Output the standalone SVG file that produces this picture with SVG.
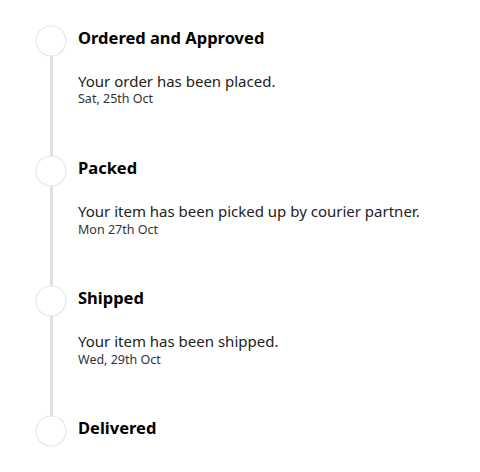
<svg xmlns="http://www.w3.org/2000/svg" width="480" height="472" viewBox="0 0 480 472">
<style>
.dot{fill:#fff;stroke:#e6e6e6;stroke-width:1.2}
.title{font-family:"Noto Sans","Open Sans",sans-serif;font-weight:bold;font-size:16.5px;fill:#000}
.body{font-family:"Noto Sans","Open Sans",sans-serif;font-size:15px;fill:#222}
.date{font-family:"Noto Sans","Open Sans",sans-serif;font-size:12.5px;fill:#333}
.line{stroke:#e0e0e0;stroke-width:3;fill:none}
</style>
<rect width="480" height="472" fill="#fff"/>
<g id="connectors">
<line class="line" x1="51.5" y1="56" x2="51.5" y2="416"/>
</g>
<g id="step-ordered">
<circle class="dot" cx="51" cy="41" r="15"/>
<text class="title" x="78" y="44">Ordered and Approved</text>
<text class="body" x="78" y="87">Your order has been placed.</text>
<text class="date" x="78" y="103">Sat, 25th Oct</text>
</g>
<g id="step-packed">
<circle class="dot" cx="51" cy="171" r="15"/>
<text class="title" x="78" y="174">Packed</text>
<text class="body" x="78" y="217">Your item has been picked up by courier partner.</text>
<text class="date" x="78" y="234">Mon 27th Oct</text>
</g>
<g id="step-shipped">
<circle class="dot" cx="51" cy="301" r="15"/>
<text class="title" x="78" y="304">Shipped</text>
<text class="body" x="78" y="347">Your item has been shipped.</text>
<text class="date" x="78" y="364">Wed, 29th Oct</text>
</g>
<g id="step-delivered">
<circle class="dot" cx="51" cy="431" r="15"/>
<text class="title" x="78" y="434">Delivered</text>
</g>
</svg>
